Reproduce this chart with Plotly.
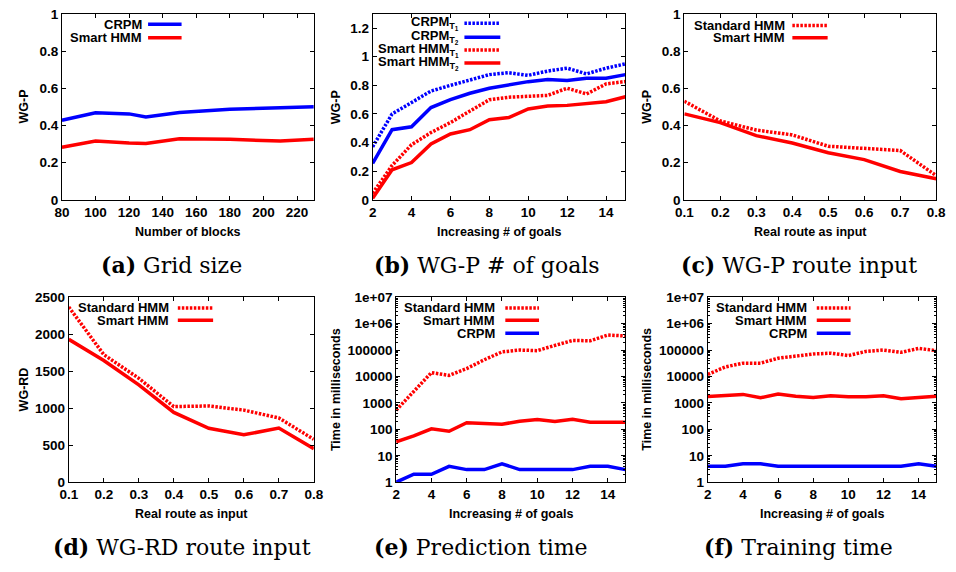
import plotly.graph_objects as go

# ---------------- data ----------------
grid_blocks = [80, 100, 120, 130, 150, 180, 210, 230]
grid_crpm = [0.428, 0.468, 0.462, 0.445, 0.470, 0.487, 0.495, 0.501]
grid_smart = [0.283, 0.316, 0.305, 0.303, 0.328, 0.325, 0.316, 0.325]

goals = [2, 3, 4, 5, 6, 7, 8, 9, 10, 11, 12, 13, 14, 15]
wgp_crpm_t1 = [0.37, 0.60, 0.68, 0.76, 0.80, 0.835, 0.875, 0.888, 0.87, 0.90, 0.92, 0.88, 0.92, 0.95]
wgp_crpm_t2 = [0.255, 0.49, 0.51, 0.645, 0.70, 0.745, 0.78, 0.805, 0.826, 0.84, 0.834, 0.85, 0.85, 0.875]
wgp_smart_t1 = [0.045, 0.24, 0.385, 0.47, 0.54, 0.62, 0.70, 0.717, 0.724, 0.73, 0.78, 0.74, 0.81, 0.827]
wgp_smart_t2 = [0.01, 0.21, 0.26, 0.39, 0.46, 0.49, 0.56, 0.575, 0.635, 0.655, 0.66, 0.675, 0.685, 0.72]

route_input = [0.1, 0.2, 0.3, 0.4, 0.5, 0.6, 0.7, 0.8]
wgp_route_standard = [0.53, 0.424, 0.375, 0.349, 0.288, 0.276, 0.265, 0.13]
wgp_route_smart = [0.462, 0.415, 0.345, 0.305, 0.253, 0.216, 0.152, 0.113]

wgrd_route_standard = [2368, 1724, 1404, 1022, 1030, 974, 868, 579]
wgrd_route_smart = [1930, 1645, 1316, 943, 728, 640, 732, 452]

pred_standard = [530, 2750, 14000, 11000, 20000, 43000, 85000, 100000, 95000, 150000, 230000, 225000, 370000, 340000]
pred_smart = [34, 57, 105, 85, 177, 172, 155, 204, 235, 198, 240, 187, 187, 187]
pred_crpm = [1, 2, 2, 4, 3, 3, 5, 3, 3, 3, 3, 4, 4, 3]

train_standard = [12000, 23000, 32000, 32000, 49000, 59000, 71000, 76000, 62000, 89000, 100000, 82000, 115000, 95000]
train_smart = [1750, 1850, 2100, 1570, 2150, 1800, 1600, 1850, 1700, 1700, 1850, 1450, 1650, 1800]
train_crpm = [4, 4, 5, 5, 4, 4, 4, 4, 4, 4, 4, 4, 5, 4]

log_tickvals = [1, 10, 100, 1000, 10000, 100000, 1000000, 10000000]
log_ticktext = ["1", "10", "100", "1000", "10000", "100000", "1e+06", "1e+07"]

captions = ["<b>(a)</b> Grid size", "<b>(b)</b> WG-P # of goals", "<b>(c)</b> WG-P route input",
            "<b>(d)</b> WG-RD route input", "<b>(e)</b> Prediction time", "<b>(f)</b> Training time"]

# ---------------- styling ----------------
W, H = 956, 572
BLUE = "#0000ff"
RED = "#ff0000"
LW = 3.5
DOT = "2.5px,1.5px"
SANS = "Liberation Sans"
SERIF = "DejaVu Serif"

# plot areas in pixels: (left, right, top, bottom)
areas = [
    (54, 311, 7, 198),
    (371, 629, 7, 198),
    (689, 946, 7, 198),
    (61, 311, 298, 488),
    (395, 629, 298, 488),
    (713, 946, 298, 488),
]

fig = go.Figure()

def add(i, x, y, color, dash):
    sfx = "" if i == 1 else str(i)
    fig.add_trace(go.Scatter(x=x, y=y, mode="lines", showlegend=False,
                             line=dict(color=color, width=LW, dash=dash),
                             xaxis="x" + sfx, yaxis="y" + sfx))

add(1, grid_blocks, grid_crpm, BLUE, "solid")
add(1, grid_blocks, grid_smart, RED, "solid")
add(2, goals, wgp_crpm_t1, BLUE, DOT)
add(2, goals, wgp_crpm_t2, BLUE, "solid")
add(2, goals, wgp_smart_t1, RED, DOT)
add(2, goals, wgp_smart_t2, RED, "solid")
add(3, route_input, wgp_route_standard, RED, DOT)
add(3, route_input, wgp_route_smart, RED, "solid")
add(4, route_input, wgrd_route_standard, RED, DOT)
add(4, route_input, wgrd_route_smart, RED, "solid")
add(5, goals, pred_standard, RED, DOT)
add(5, goals, pred_smart, RED, "solid")
add(5, goals, pred_crpm, BLUE, "solid")
add(6, goals, train_standard, RED, DOT)
add(6, goals, train_smart, RED, "solid")
add(6, goals, train_crpm, BLUE, "solid")

tickfont = dict(family=SANS, size=13.5, color="black", weight="bold")
common = dict(showline=True, linecolor="black", linewidth=1, mirror="ticks",
              ticks="inside", ticklen=4, tickcolor="black", tickwidth=1,
              showgrid=False, zeroline=False, tickfont=tickfont)

xcfg = [
    dict(range=[80, 230], tick0=80, dtick=20),
    dict(range=[2, 15], tick0=2, dtick=2),
    dict(range=[0.1, 0.8], tick0=0.1, dtick=0.1),
    dict(range=[0.1, 0.8], tick0=0.1, dtick=0.1),
    dict(range=[2, 15], tick0=2, dtick=2),
    dict(range=[2, 15], tick0=2, dtick=2),
]
ycfg = [
    dict(range=[0, 1], tick0=0, dtick=0.2),
    dict(range=[0, 1.3], tick0=0, dtick=0.2),
    dict(range=[0, 1], tick0=0, dtick=0.2),
    dict(range=[0, 2500], tick0=0, dtick=500),
    dict(type="log", range=[0, 7], tickvals=log_tickvals, ticktext=log_ticktext,
         minor=dict(ticks="inside", ticklen=2, tickcolor="black", dtick="D1")),
    dict(type="log", range=[0, 7], tickvals=log_tickvals, ticktext=log_ticktext,
         minor=dict(ticks="inside", ticklen=2, tickcolor="black", dtick="D1")),
]

xtitles = ["Number of blocks", "Increasing # of goals", "Real route as input",
           "Real route as input", "Increasing # of goals", "Increasing # of goals"]
ytitles = ["WG-P", "WG-P", "WG-P", "WG-RD", "Time in milliseconds", "Time in milliseconds"]
ytitle_px = [15, 333, 651, 15, 333, 651]
caption_px = [(166, 265), (488, 265), (806, 265), (177, 555), (482, 555), (805, 555)]

layout = {}
annotations = []
for i, (l, r, t, b) in enumerate(areas):
    n = i + 1
    sfx = "" if n == 1 else str(n)
    xd = [l / W, r / W]
    yd = [1 - b / H, 1 - t / H]
    layout["xaxis" + sfx] = dict(domain=xd, anchor="y" + sfx, **common, **xcfg[i])
    layout["yaxis" + sfx] = dict(domain=yd, anchor="x" + sfx, **common, **ycfg[i])
    title_font = dict(family=SANS, size=12.5, color="black", weight="bold")
    xt_y = (b + 33) / H
    annotations.append(dict(text=xtitles[i], xref="paper", yref="paper",
                            x=(xd[0] + xd[1]) / 2, y=1 - xt_y, xanchor="center", yanchor="middle",
                            showarrow=False, font=title_font))
    annotations.append(dict(text=ytitles[i], xref="paper", yref="paper", textangle=-90,
                            x=ytitle_px[i] / W, y=(yd[0] + yd[1]) / 2, xanchor="center", yanchor="middle",
                            showarrow=False, font=title_font))
    cx, cy = caption_px[i]
    annotations.append(dict(text=captions[i], xref="paper", yref="paper",
                            x=cx / W, y=1 - cy / H, xanchor="center", yanchor="middle",
                            showarrow=False, font=dict(family=SERIF, size=22, color="black")))

# gnuplot-style keys: right-aligned label then line sample
keys = [
    (1, 0.323, 0.342, 0.475, [("CRPM", BLUE, "solid", 0.944), ("Smart HMM", RED, "solid", 0.871)]),
    (2, 0.344, 0.363, 0.505, [("CRPM<sub>T<sub>1</sub></sub>", BLUE, DOT, 0.949),
                              ("CRPM<sub>T<sub>2</sub></sub>", BLUE, "solid", 0.874),
                              ("Smart HMM<sub>T<sub>1</sub></sub>", RED, DOT, 0.805),
                              ("Smart HMM<sub>T<sub>2</sub></sub>", RED, "solid", 0.735)]),
    (3, 0.403, 0.429, 0.569, [("Standard HMM", RED, DOT, 0.937), ("Smart HMM", RED, "solid", 0.871)]),
    (4, 0.413, 0.445, 0.589, [("Standard HMM", RED, DOT, 0.942), ("Smart HMM", RED, "solid", 0.875)]),
    (5, 0.436, 0.476, 0.623, [("Standard HMM", RED, DOT, 0.942), ("Smart HMM", RED, "solid", 0.875),
                              ("CRPM", BLUE, "solid", 0.805)]),
    (6, 0.438, 0.477, 0.625, [("Standard HMM", RED, DOT, 0.942), ("Smart HMM", RED, "solid", 0.875),
                              ("CRPM", BLUE, "solid", 0.805)]),
]
shapes = []
for n, tx, lx0, lx1, rows in keys:
    sfx = "" if n == 1 else str(n)
    for label, color, dash, yy in rows:
        annotations.append(dict(text=label, xref="x" + sfx + " domain", yref="y" + sfx + " domain",
                                x=tx, y=yy, xanchor="right", yanchor="middle", showarrow=False,
                                borderpad=0,
                                font=dict(family=SANS, size=13, color="black", weight="bold")))
        shapes.append(dict(type="line", xref="x" + sfx + " domain", yref="y" + sfx + " domain",
                           x0=lx0, x1=lx1, y0=yy, y1=yy, line=dict(color=color, width=LW, dash=dash)))

fig.update_layout(width=W, height=H, margin=dict(l=0, r=0, t=0, b=0),
                  plot_bgcolor="white", paper_bgcolor="white",
                  annotations=annotations, shapes=shapes, **layout)

fig.write_html("out.html", config={"displayModeBar": False},
               post_script="document.body.style.margin='0';document.body.style.overflow='hidden';")
